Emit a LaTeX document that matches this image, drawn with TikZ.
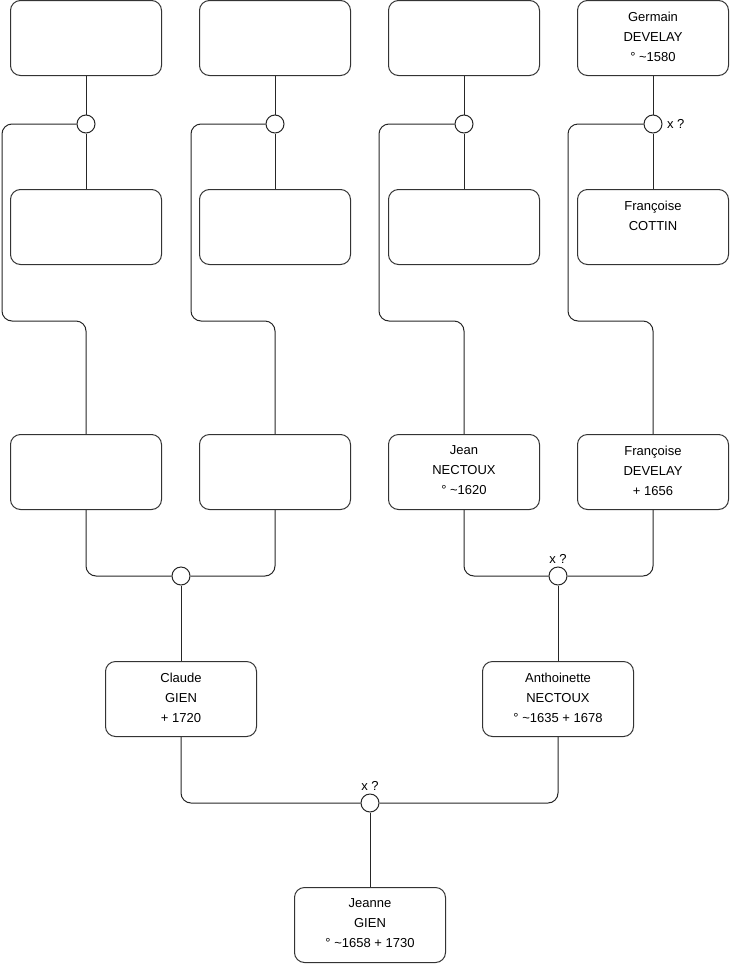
\documentclass[tikz,border=0pt]{standalone}
\usepackage{fontspec}
\setmainfont{Liberation Sans}
\usetikzlibrary{positioning}

\tikzset{
  person/.style={draw=black!80, rounded corners=10pt, minimum width=151pt, minimum height=75pt, inner sep=0pt},
  who/.style={align=center, anchor=north, inner sep=0pt},
  union/.style={draw=black!85, circle, minimum size=18pt, inner sep=0pt, fill=white},
  link/.style={draw=black!85, rounded corners=10pt}
}

\begin{document}
\begin{tikzpicture}[x=1pt, y=-1pt, line width=1pt, font=\fontsize{13}{20}\selectfont]
  \useasboundingbox (0,0) rectangle (740,975);
  % top row
  \node[person] (g1) at (86,38) {};
  \node[person] (g2) at (275,38) {};
  \node[person] (g3) at (464,38) {};
  \node[person] (g4) at (653,38) {};
  \node[who] (g4t) at ([yshift=-11.5pt]g4.north) {Germain\\DEVELAY\\° \textasciitilde1580};
  % second row
  \node[person] (s1) at (86,227) {};
  \node[person] (s2) at (275,227) {};
  \node[person] (s3) at (464,227) {};
  \node[person] (s4) at (653,227) {};
  \node[who] (s4t) at ([yshift=-11.5pt]s4.north) {Françoise\\COTTIN};
  % unions of the top couples
  \node[union] (u1) at (86,124) {};
  \node[union] (u2) at (275,124) {};
  \node[union] (u3) at (464,124) {};
  \node[union, label={[inner sep=4pt]right:x ?}] (u4) at (653,124) {};
  % third row
  \node[person] (p1) at (86,472) {};
  \node[person] (p2) at (275,472) {};
  \node[person] (p3) at (464,472) {};
  \node[person] (p4) at (653,472) {};
  \node[who] (p3t) at ([yshift=-11.5pt]p3.north) {Jean\\NECTOUX\\° \textasciitilde1620};
  \node[who] (p4t) at ([yshift=-11.5pt]p4.north) {Françoise\\DEVELAY\\+ 1656};
  \foreach \i/\xl in {1/2, 2/191, 3/379, 4/568} {
    \draw[link] (g\i) -- (u\i) -- (s\i);
    \draw[link] (u\i.west) -| (\xl,321) -| (p\i.north);
  }
  % parents
  \node[union] (m1) at (181,576) {};
  \node[union, label={[inner sep=3pt]above:x ?}] (m2) at (558,576) {};
  \node[person] (claude) at (181,699) {};
  \node[who] (claudet) at ([yshift=-11.5pt]claude.north) {Claude\\GIEN\\+ 1720};
  \node[person] (anth) at (558,699) {};
  \node[who] (antht) at ([yshift=-11.5pt]anth.north) {Anthoinette\\NECTOUX\\° \textasciitilde1635 + 1678};
  \draw[link] (p1.south) |- (m1.west);
  \draw[link] (p2.south) |- (m1.east);
  \draw[link] (p3.south) |- (m2.west);
  \draw[link] (p4.south) |- (m2.east);
  \draw[link] (m1) -- (claude);
  \draw[link] (m2) -- (anth);
  % Jeanne
  \node[union, label={[inner sep=3pt]above:x ?}] (b) at (370,803) {};
  \node[person] (jeanne) at (370,925) {};
  \node[who] (jeannet) at ([yshift=-11.5pt]jeanne.north) {Jeanne\\GIEN\\° \textasciitilde1658 + 1730};
  \draw[link] (claude.south) |- (b.west);
  \draw[link] (anth.south) |- (b.east);
  \draw[link] (b) -- (jeanne);
\end{tikzpicture}
\end{document}
